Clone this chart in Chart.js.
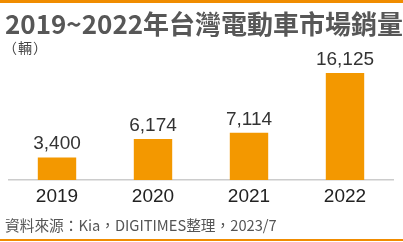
<!DOCTYPE html>
<html>
<head>
<meta charset="utf-8">
<script src="https://cdn.jsdelivr.net/npm/chart.js@4/dist/chart.umd.min.js"></script>
<style>
  html, body { margin: 0; padding: 0; background: #fff; }
  #wrap { position: relative; width: 403px; height: 242px; overflow: hidden; background: #fff; }
  #chart { position: absolute; left: 0; top: 0; }
  .topline { position: absolute; left: 0; top: 0; width: 403px; height: 3px; background: #f08c00; }
  .botline { position: absolute; left: 0; top: 239px; width: 403px; height: 2px; background: #f08c00; }
  .title { position: absolute; left: 5px; top: 7px; font: bold 26px "Noto Sans CJK TC", sans-serif; color: #575757; line-height: 1.2; white-space: nowrap; }
  .unit { position: absolute; left: 3px; top: 39px; font: 14px "Noto Sans CJK TC", sans-serif; color: #444; line-height: 1.2; white-space: nowrap; letter-spacing: 1px; }
  .source { position: absolute; left: 5px; top: 216px; font: 14.7px "Noto Sans CJK TC", sans-serif; color: #555; line-height: 1.2; white-space: nowrap; }
</style>
</head>
<body>
<div id="wrap">
  <canvas id="chart" width="403" height="242"></canvas>
  <div class="topline"></div>
  <div class="title">2019~2022年台灣電動車市場銷量</div>
  <div class="unit">（輛）</div>
  <div class="source">資料來源：Kia，DIGITIMES整理，2023/7</div>
  <div class="botline"></div>
</div>
<script>
// data
const years = ['2019', '2020', '2021', '2022'];
const sales = [3400, 6174, 7114, 16125];

const barColor = '#f39800';

// draw value labels above the bars
const valueLabels = {
  id: 'valueLabels',
  afterDatasetsDraw(chart) {
    const ctx = chart.ctx;
    const meta = chart.getDatasetMeta(0);
    ctx.save();
    ctx.font = '19px "Liberation Sans", Arial, sans-serif';
    ctx.fillStyle = '#333';
    ctx.textAlign = 'center';
    ctx.textBaseline = 'alphabetic';
    meta.data.forEach((bar, i) => {
      ctx.fillText(sales[i].toLocaleString('en-US'), bar.x, bar.y - 8);
    });
    ctx.restore();
  }
};

Chart.register(...(Chart.registerables || []));

new Chart(document.getElementById('chart'), {
  type: 'bar',
  data: {
    labels: years,
    datasets: [{
      data: sales,
      backgroundColor: barColor,
      borderWidth: 0,
      categoryPercentage: 1,
      barPercentage: 0.4
    }]
  },
  options: {
    responsive: false,
    animation: false,
    layout: { padding: { left: 9, right: 10, top: 60, bottom: 37 } },
    plugins: {
      legend: { display: false },
      tooltip: { enabled: false },
      title: { display: false }
    },
    scales: {
      x: {
        grid: { display: false, drawTicks: false },
        border: { display: true, color: '#cccccc', width: 1.5 },
        ticks: {
          color: '#222',
          padding: 5,
          font: { family: '"Liberation Sans", Arial, sans-serif', size: 19 }
        },
        afterFit(scale) { scale.height = 25; }
      },
      y: {
        display: false,
        min: 0,
        max: 18100
      }
    }
  },
  plugins: [valueLabels]
});
</script>
</body>
</html>
